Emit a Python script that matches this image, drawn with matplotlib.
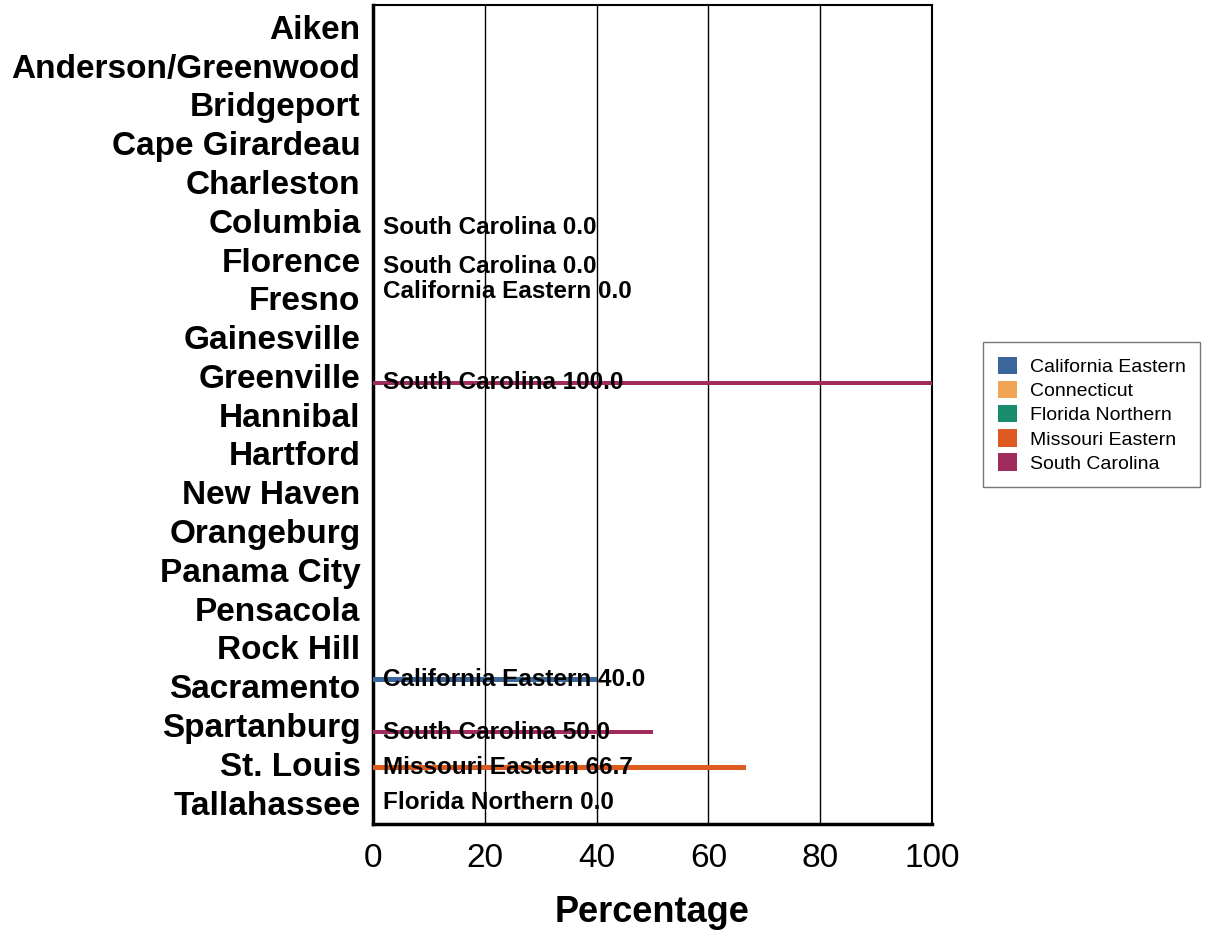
import numpy as np
import matplotlib.pyplot as plt
from matplotlib.patches import Patch

plt.rcParams['font.family'] = ['Liberation Sans', 'DejaVu Sans']

cities = ["Aiken", "Anderson/Greenwood", "Bridgeport", "Cape Girardeau", "Charleston",
          "Columbia", "Florence", "Fresno", "Gainesville", "Greenville", "Hannibal",
          "Hartford", "New Haven", "Orangeburg", "Panama City", "Pensacola", "Rock Hill",
          "Sacramento", "Spartanburg", "St. Louis", "Tallahassee"]
districts = ["California Eastern", "Connecticut", "Florida Northern", "Missouri Eastern", "South Carolina"]
colors = ["#3a6699", "#f0a455", "#1a8c6e", "#dd5a20", "#a02c5e"]

# one entry per bar: city, district, percentage
bar_city = ["Columbia", "Florence", "Fresno", "Greenville", "Sacramento", "Spartanburg", "St. Louis", "Tallahassee"]
bar_district = ["South Carolina", "South Carolina", "California Eastern", "South Carolina",
                "California Eastern", "South Carolina", "Missouri Eastern", "Florida Northern"]
bar_value = [0.0, 0.0, 0.0, 100.0, 40.0, 50.0, 66.7, 0.0]

fig = plt.figure(figsize=(12.15, 9.32), dpi=100)
ax = fig.add_axes([373/1215, 1-824/932, (932-373)/1215, (824-5)/932])

slot = 0.09
for c, d, v in zip(bar_city, bar_district, bar_value):
    i = cities.index(c)
    k = districts.index(d)
    y = i + (k-2)*slot
    ax.barh(y, v, height=0.12, color=colors[k], zorder=3)
    ax.text(1.7, y, "{} {:.1f}".format(d, v), fontsize=17.5, fontweight='bold',
            va='center', ha='left', zorder=4)

ax.set_ylim(len(cities)-0.45, -0.56)
ax.set_yticks(range(len(cities)))
ax.set_yticklabels(cities, fontsize=24, fontweight='bold')
ax.set_xlim(0, 100)
ax.set_xticks([0, 20, 40, 60, 80, 100])
ax.tick_params(axis='x', labelsize=24, length=0, pad=14)
ax.tick_params(axis='y', length=0, pad=9)
ax.set_xlabel("Percentage", fontsize=26, fontweight='bold', labelpad=15)
ax.grid(axis='x', color='black', linewidth=1, zorder=1)
ax.set_axisbelow(True)
for s in ['left', 'bottom']:
    ax.spines[s].set_linewidth(2.5)
for s in ['top', 'right']:
    ax.spines[s].set_linewidth(1.5)

handles = [Patch(facecolor=c, label=d) for c, d in zip(colors, districts)]
leg = fig.legend(handles=handles, loc='upper left', bbox_to_anchor=(983/1215, 1-342/932),
                 fontsize=14, frameon=True, fancybox=False, edgecolor='#555555',
                 handlelength=1.0, handleheight=1.0, borderpad=0.75, labelspacing=0.25,
                 handletextpad=0.65, borderaxespad=0)
leg.get_frame().set_linewidth(1)

fig.savefig("out.png", dpi=100)
